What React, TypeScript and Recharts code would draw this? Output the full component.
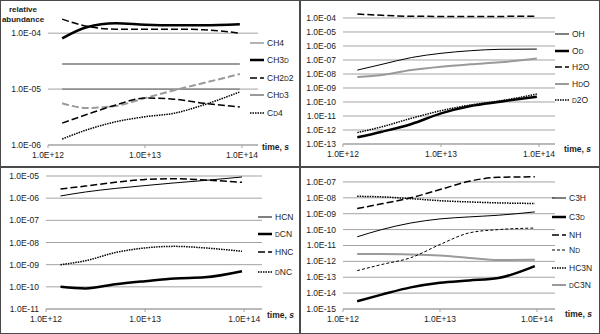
import React from 'react'
import { LineChart, Line, XAxis, YAxis, ReferenceLine } from 'recharts'

// sampling times, s
const times = [1.4e12, 2.5e12, 5e12, 1e13, 2e13, 4e13, 9.5e13]
const xTicks = [1e12, 1e13, 1e14]

// methane
const ch4 = [1e-5, 1e-5, 1e-5, 1e-5, 1e-5, 1e-5, 1e-5]
const ch3d = [8.1e-5, 1.28e-4, 1.5e-4, 1.42e-4, 1.39e-4, 1.39e-4, 1.45e-4]
const ch2d2 = [2.46e-6, 3.5e-6, 5.2e-6, 6.9e-6, 6.6e-6, 5.6e-6, 4.8e-6]
const chd3 = [2.8e-5, 2.8e-5, 2.8e-5, 2.8e-5, 2.8e-5, 2.8e-5, 2.8e-5]
const cd4 = [1.28e-6, 1.86e-6, 2.6e-6, 3.2e-6, 3.7e-6, 5.2e-6, 8.9e-6]
const dashedHigh = [1.78e-4, 1.33e-4, 1.18e-4, 1.18e-4, 1.18e-4, 1.15e-4, 1.0e-4]
const grayDashed = [5.6e-6, 4.6e-6, 5e-6, 6.9e-6, 9.5e-6, 1.28e-5, 1.86e-5]

// water
const oh = [1.9e-8, 4.9e-8, 1.5e-7, 3e-7, 4.6e-7, 5.8e-7, 6e-7]
const od = [3e-13, 7.6e-13, 2.7e-12, 1.55e-11, 5.2e-11, 1.05e-10, 2.4e-10]
const h2o = [1.9e-4, 1.55e-4, 1.32e-4, 1.3e-4, 1.3e-4, 1.3e-4, 1.35e-4]
const hdo = [6.2e-9, 8.5e-9, 1.9e-8, 3.3e-8, 4.9e-8, 6.8e-8, 1.3e-7]
const d2o = [6.5e-13, 1.7e-12, 6.9e-12, 2.4e-11, 6.1e-11, 1.2e-10, 3.7e-10]

// cyanides
const hcn = [1.26e-6, 1.9e-6, 2.75e-6, 3.7e-6, 4.9e-6, 6.3e-6, 9e-6]
const dcn = [1e-10, 8.5e-11, 1.3e-10, 1.8e-10, 2.4e-10, 2.7e-10, 5.1e-10]
const hnc = [2.6e-6, 3.5e-6, 5.2e-6, 7e-6, 7.5e-6, 6.6e-6, 5.2e-6]
const dnc = [1e-9, 1.5e-9, 3.5e-9, 5.7e-9, 6.7e-9, 5.7e-9, 4e-9]

// others
const c3h = [3.5e-11, 1e-10, 2.6e-10, 4.7e-10, 6.3e-10, 8e-10, 1.3e-9]
const c3d = [3.1e-15, 8e-15, 2.3e-14, 4.5e-14, 6.3e-14, 9e-14, 5e-13]
const nh = [2.1e-9, 4.2e-9, 1e-8, 3.3e-8, 1.1e-7, 1.95e-7, 2.1e-7]
const nd = [2.6e-13, 6.3e-13, 1.7e-12, 1.15e-11, 6.2e-11, 1e-10, 1.25e-10]
const hc3n = [1.25e-8, 1.15e-8, 8.9e-9, 6.6e-9, 5.5e-9, 4.8e-9, 4.4e-9]
const dc3n = [2.9e-12, 2.9e-12, 2.7e-12, 2.3e-12, 1.65e-12, 1.2e-12, 1.25e-12]

const FONT = '"Liberation Sans", Arial, sans-serif'

type Style = { stroke: string; width: number; dash?: string }
type Series = Style & { key: string; values: number[] }
type LegendItem = Style & { label: string }

const thin: Style = { stroke: '#000', width: 1 }
const thick: Style = { stroke: '#000', width: 2.5 }
const dashed: Style = { stroke: '#000', width: 1.5, dash: '7 3' }
const gray: Style = { stroke: '#9a9a9a', width: 2 }
const dotted: Style = { stroke: '#000', width: 1.5, dash: '1.5 1' }

// axes run on log10 of the values; labels show the real number
const fmt = (lg: number) => {
  const [m, e] = Math.pow(10, lg).toExponential(1).split('e')
  return `${m}E${e[0]}${e.slice(1).padStart(2, '0')}`
}

const decades = (lo: number, hi: number) => {
  const out: number[] = []
  for (let p = lo; p <= hi; p++) out.push(p)
  return out
}

// "{D}" parts drawn as small caps
function Label({ text }: { text: string }) {
  const parts = text.split(/(\{[^}]+\})/)
  return (
    <>
      {parts.map((p, i) =>
        p.startsWith('{') ? (
          <span key={i} style={{ fontSize: '0.78em' }}>{p.slice(1, -1)}</span>
        ) : (
          <span key={i}>{p}</span>
        )
      )}
    </>
  )
}

interface PanelProps {
  left: number
  top: number
  series: Series[]
  yDomain: [number, number]
  yTicks: number[]
  xMax: number
  margin: { top: number; right: number }
  yWidth: number
  xHeight: number
  legend: LegendItem[]
  legendX: number
  legendY: number[]
  timeX: number
  timeY: number
  children?: React.ReactNode
}

function Panel(p: PanelProps) {
  const rows = times.map((t, i) => {
    const r: Record<string, number> = { t: Math.log10(t) }
    p.series.forEach(s => { r[s.key] = Math.log10(s.values[i]) })
    return r
  })
  return (
    <div
      style={{
        position: 'absolute', left: p.left, top: p.top, width: 300, height: 167,
        border: '1px solid #4a4a4a', boxSizing: 'border-box', fontFamily: FONT,
      }}
    >
      <div style={{ position: 'absolute', left: -1, top: -1 }}>
        <LineChart width={300} height={167} data={rows} margin={{ top: p.margin.top, right: p.margin.right, left: 0, bottom: 0 }}>
          <XAxis
            dataKey="t" type="number" domain={[12, p.xMax]} ticks={xTicks.map(Math.log10)} allowDataOverflow interval={0}
            height={p.xHeight} tickFormatter={fmt} tickSize={3} tickMargin={4}
            axisLine={{ stroke: '#a3a3a3' }} tickLine={{ stroke: '#a3a3a3' }}
            tick={{ fontSize: 8.5, fill: '#222', fontFamily: FONT }}
          />
          <YAxis type="number" domain={p.yDomain} allowDataOverflow width={p.yWidth} axisLine={false} tickLine={false} tick={false} />
          {p.yTicks.map(v => (
            <ReferenceLine
              key={v} y={v} stroke="#a3a3a3"
              label={{ value: fmt(v), position: 'left', offset: 7, fontSize: 8.5, fill: '#222', fontFamily: FONT }}
            />
          ))}
          {p.series.map(s => (
            <Line
              key={s.key} dataKey={s.key} type="monotone" stroke={s.stroke} strokeWidth={s.width}
              strokeDasharray={s.dash} dot={false} isAnimationActive={false}
            />
          ))}
        </LineChart>
        {p.legend.map((l, i) => (
          <div
            key={l.label}
            style={{ position: 'absolute', left: p.legendX, top: p.legendY[i] - 6, height: 12, display: 'flex', alignItems: 'center', fontSize: 8.5, color: '#222', whiteSpace: 'nowrap' }}
          >
            <svg width={14} height={12} style={{ marginRight: 3 }}>
              <line x1={0} y1={6} x2={14} y2={6} stroke={l.stroke} strokeWidth={l.width} strokeDasharray={l.dash} />
            </svg>
            <Label text={l.label} />
          </div>
        ))}
        <div style={{ position: 'absolute', left: p.timeX, top: p.timeY - 6, fontSize: 8.5, fontWeight: 'bold', color: '#222', whiteSpace: 'nowrap' }}>
          time, <i>s</i>
        </div>
        {p.children}
      </div>
    </div>
  )
}

export default function App() {
  return (
    <div style={{ position: 'fixed', left: 0, top: 0, width: 600, height: 334, background: '#fff' }}>
      <Panel
        left={0} top={0}
        series={[
          { key: 'ch4', values: ch4, stroke: '#666', width: 1 },
          { key: 'chd3', values: chd3, ...gray },
          { key: 'grayDashed', values: grayDashed, stroke: '#9a9a9a', width: 2, dash: '7 3' },
          { key: 'dashedHigh', values: dashedHigh, ...dashed },
          { key: 'ch3d', values: ch3d, ...thick },
          { key: 'ch2d2', values: ch2d2, ...dashed },
          { key: 'cd4', values: cd4, ...dotted },
        ]}
        yDomain={[-6, -3.55]} yTicks={decades(-6, -4)} xMax={14.165}
        margin={{ top: 8, right: 42 }} yWidth={48} xHeight={22}
        legend={[
          { label: 'CH4', stroke: '#666', width: 1 },
          { label: 'CH3{D}', ...thick },
          { label: 'CH2{D}2', ...dashed },
          { label: 'CH{D}3', ...gray },
          { label: 'C{D}4', ...dotted },
        ]}
        legendX={250} legendY={[43, 60, 78, 95, 113]} timeX={262} timeY={148}
      >
        <div style={{ position: 'absolute', left: 0, top: 5, width: 46, textAlign: 'center', fontSize: 8, fontWeight: 'bold', lineHeight: '10px', color: '#222' }}>
          relative<br />abundance
        </div>
      </Panel>
      <Panel
        left={300} top={0}
        series={[
          { key: 'hdo', values: hdo, ...gray },
          { key: 'h2o', values: h2o, ...dashed },
          { key: 'oh', values: oh, ...thin },
          { key: 'od', values: od, ...thick },
          { key: 'd2o', values: d2o, ...dotted },
        ]}
        yDomain={[-13, -3.43]} yTicks={decades(-13, -4)} xMax={14.163}
        margin={{ top: 10, right: 45 }} yWidth={43} xHeight={23}
        legend={[
          { label: 'OH', ...thin },
          { label: 'O{D}', ...thick },
          { label: 'H2O', ...dashed },
          { label: 'H{D}O', ...gray },
          { label: '{D}2O', ...dotted },
        ]}
        legendX={255} legendY={[34, 51, 67, 84, 100]} timeX={264} timeY={150}
      />
      <Panel
        left={0} top={167}
        series={[
          { key: 'hcn', values: hcn, ...thin },
          { key: 'dcn', values: dcn, ...thick },
          { key: 'hnc', values: hnc, ...dashed },
          { key: 'dnc', values: dnc, ...dotted },
        ]}
        yDomain={[-11, -5]} yTicks={decades(-11, -5)} xMax={14.18}
        margin={{ top: 9, right: 38 }} yWidth={46} xHeight={25}
        legend={[
          { label: 'HCN', ...thin },
          { label: '{D}CN', ...thick },
          { label: 'HNC', ...dashed },
          { label: '{D}NC', ...dotted },
        ]}
        legendX={258} legendY={[50, 67, 85, 105]} timeX={267} timeY={149}
      />
      <Panel
        left={300} top={167}
        series={[
          { key: 'dc3n', values: dc3n, ...gray },
          { key: 'c3h', values: c3h, ...thin },
          { key: 'c3d', values: c3d, ...thick },
          { key: 'nh', values: nh, ...dashed },
          { key: 'nd', values: nd, stroke: '#000', width: 1, dash: '3 2' },
          { key: 'hc3n', values: hc3n, ...dotted },
        ]}
        yDomain={[-15, -6.5]} yTicks={decades(-15, -7)} xMax={14.186}
        margin={{ top: 7, right: 45 }} yWidth={43} xHeight={25}
        legend={[
          { label: 'C3H', ...thin },
          { label: 'C3{D}', ...thick },
          { label: 'NH', ...dashed },
          { label: 'N{D}', stroke: '#000', width: 1, dash: '3 2' },
          { label: 'HC3N', ...dotted },
          { label: '{D}C3N', ...gray },
        ]}
        legendX={252} legendY={[31, 50, 68, 83, 101, 118]} timeX={265} timeY={148}
      />
    </div>
  )
}
